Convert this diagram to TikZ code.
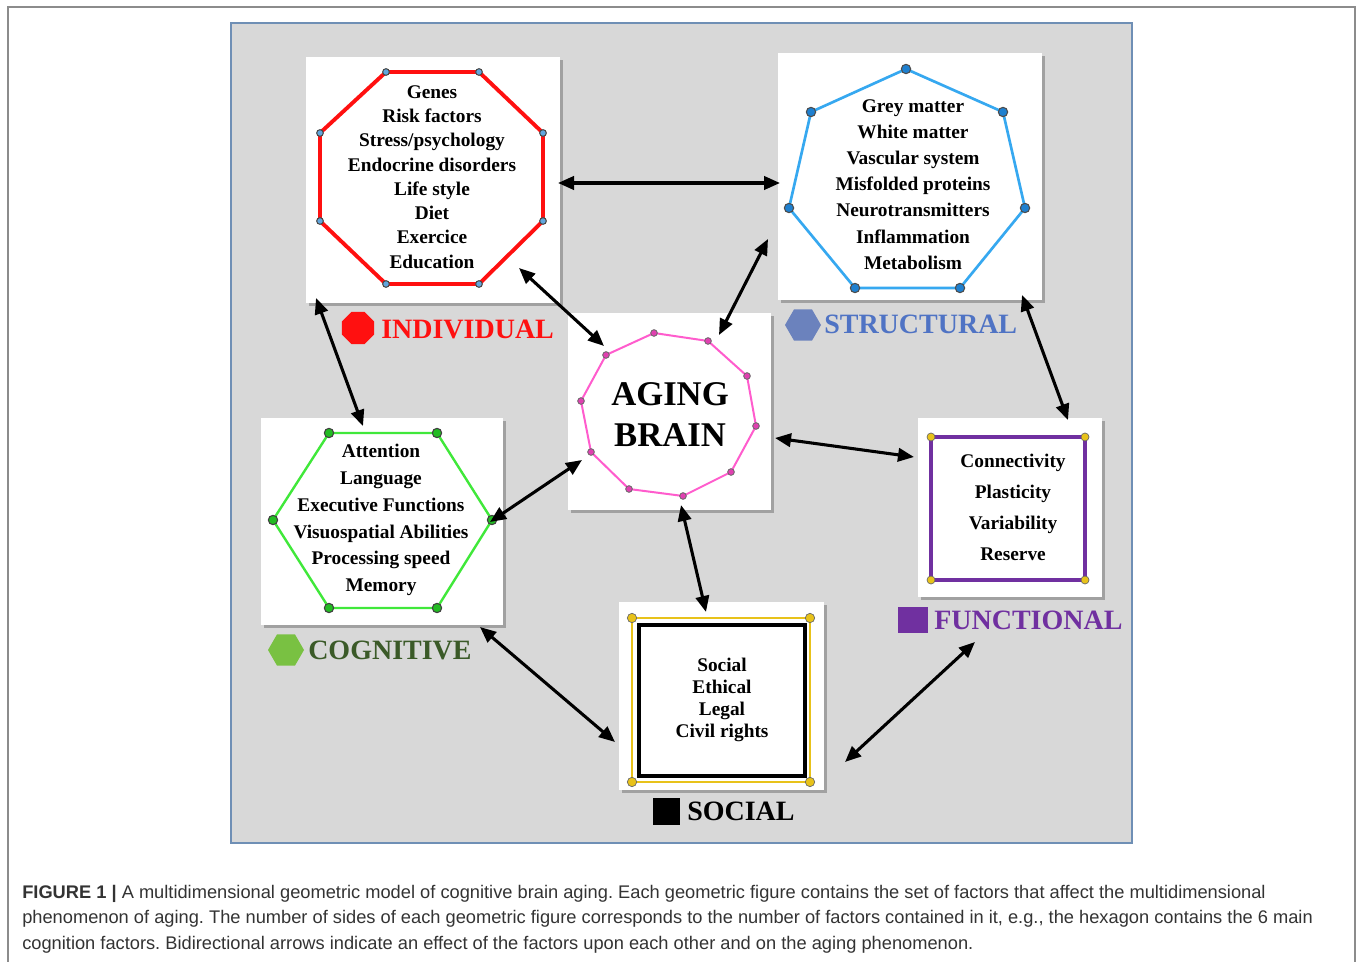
\documentclass[tikz,border=0pt]{standalone}
\usepackage{fontspec}
\setmainfont{Liberation Serif}
\newfontfamily\capfont{Liberation Sans}
\usetikzlibrary{arrows.meta,shapes.geometric,shadows}
\definecolor{panelfill}{HTML}{D8D8D8}
\definecolor{panelborder}{HTML}{6F8FB5}
\definecolor{octred}{HTML}{FF1010}
\definecolor{heptblue}{HTML}{36A8F0}
\definecolor{heptdot}{HTML}{1E80D0}
\definecolor{decpink}{HTML}{FF5CCD}
\definecolor{decdot}{HTML}{E040B0}
\definecolor{hexgreen}{HTML}{40E83A}
\definecolor{hexdot}{HTML}{22BB22}
\definecolor{cogtext}{HTML}{3B5A28}
\definecolor{cogicon}{HTML}{79C142}
\definecolor{strtext}{HTML}{4F73C4}
\definecolor{stricon}{HTML}{6B82BD}
\definecolor{funpurple}{HTML}{7030A0}
\definecolor{dotyellow}{HTML}{E8C21A}
\definecolor{captext}{HTML}{333333}
\tikzset{
  whitebox/.style={draw=none, fill=white, rectangle, inner sep=0pt,
    drop shadow={shadow xshift=2.5pt, shadow yshift=-2.5pt, fill=black, opacity=0.25}},
  factors/.style={font=\bfseries\fontsize{14.5}{#1}\selectfont, align=center, inner sep=0pt, text=black},
  biarrow/.style={line width=2.3pt, black, {Triangle[length=12pt,width=10pt]}-{Triangle[length=12pt,width=10pt]}},
  vdot/.style={circle, inner sep=0pt, minimum size=5.5pt, line width=0.8pt},
  labeltext/.style={font=\bfseries\fontsize{21}{24}\selectfont, inner sep=0pt, anchor=west},
}
\begin{document}
\frenchspacing
\begin{tikzpicture}[x=0.75pt,y=-0.75pt]
\useasboundingbox (0,0) rectangle (1357,962);
\fill[white] (0,0) rectangle (1357,962);
% page frame
\draw[black!45, line width=0.8pt] (8,962) -- (8,7) -- (1355,7) -- (1355,962);
% panel
\node[draw=panelborder, fill=panelfill, line width=1pt, rectangle, minimum width=675.75pt, minimum height=615pt, inner sep=0pt] (panel) at (681.5,433) {};

% boxes
\node[whitebox, minimum width=190.5pt, minimum height=184.5pt] (indbox) at (433,180) {};
\node[whitebox, minimum width=198pt, minimum height=185.25pt] (strbox) at (910,176.5) {};
\node[whitebox, minimum width=152.25pt, minimum height=147.75pt] (brainbox) at (669.5,411.5) {};
\node[whitebox, minimum width=181.5pt, minimum height=155.25pt] (cogbox) at (382,521.5) {};
\node[whitebox, minimum width=138pt, minimum height=134.25pt] (funbox) at (1010,507.5) {};
\node[whitebox, minimum width=153.75pt, minimum height=141pt] (socbox) at (721.5,696) {};

% octagon (individual)
\draw[octred, line width=2.9pt, line join=round] (386,72) -- (479,72) -- (543,133) -- (543,221) -- (479,284) -- (386,284) -- (320,221) -- (320,133) -- cycle;
\foreach \p in {(386,72),(479,72),(543,133),(543,221),(479,284),(386,284),(320,221),(320,133)}
  \node[vdot, draw=black!70, fill=heptdot!70, minimum size=5pt] at \p {};
% heptagon (structural)
\draw[heptblue, line width=2pt, line join=round] (906,69) -- (1003,112) -- (1025,208) -- (960,288) -- (855,288) -- (789,208) -- (811,112) -- cycle;
\foreach \p in {(906,69),(1003,112),(1025,208),(960,288),(855,288),(789,208),(811,112)}
  \node[vdot, draw=black!70, fill=heptdot, minimum size=7pt] at \p {};
% decagon (brain)
\draw[decpink, line width=1.5pt, line join=round] (654,333) -- (708,341) -- (747,376) -- (756,426) -- (731,472) -- (683,496) -- (629,489) -- (591,452) -- (581,401) -- (606,355) -- cycle;
\foreach \p in {(654,333),(708,341),(747,376),(756,426),(731,472),(683,496),(629,489),(591,452),(581,401),(606,355)}
  \node[vdot, draw=black!60, fill=decdot, minimum size=5pt, line width=0.6pt] at \p {};
% hexagon (cognitive)
\draw[hexgreen, line width=1.8pt, line join=round] (329,433) -- (437,433) -- (492,520) -- (437,608) -- (329,608) -- (273,520) -- cycle;
\foreach \p in {(329,433),(437,433),(492,520),(437,608),(329,608),(273,520)}
  \node[vdot, draw=black!75, fill=hexdot, minimum size=7pt] at \p {};
% square (functional)
\draw[dotyellow, line width=0.6pt] (931,437) rectangle (1085,580);
\draw[funpurple, line width=3pt] (931,437) rectangle (1085,580);
\foreach \p in {(931,437),(1085,437),(931,580),(1085,580)}
  \node[vdot, draw=black!60, fill=dotyellow, minimum size=6pt, line width=0.5pt] at \p {};
% square (social)
\draw[dotyellow, line width=1pt] (632,618) rectangle (810,782);
\draw[black, line width=2.6pt] (639,625) rectangle (805,776);
\foreach \p in {(632,618),(810,618),(632,782),(810,782)}
  \node[vdot, draw=black!60, fill=dotyellow, minimum size=7pt, line width=0.5pt] at \p {};

% factor texts
\node[factors=18.2pt] (indtext) at (432,177) {Genes\\Risk factors\\Stress/psychology\\Endocrine disorders\\Life style\\Diet\\Exercice\\Education};
\node[factors=19.6pt] (strtext) at (913,184.5) {Grey matter\\White matter\\Vascular system\\Misfolded proteins\\Neurotransmitters\\Inflammation\\Metabolism};
\node[font=\bfseries\fontsize{26}{30.75}\selectfont, align=center, inner sep=0pt] (braintext) at (670,415) {AGING\\BRAIN};
\node[factors=20.1pt] (cogtext) at (381,520) {Attention\\Language\\Executive Functions\\Visuospatial Abilities\\Processing speed\\Memory};
\node[factors=23.25pt] (funtext) at (1013,507.5) {Connectivity\\Plasticity\\Variability\\Reserve};
\node[factors=16.5pt] (soctext) at (722,700) {Social\\Ethical\\Legal\\Civil rights};

% category labels
\node[regular polygon, regular polygon sides=8, fill=octred, draw=none, minimum size=26pt, inner sep=0pt] (indicon) at (358,328) {};
\node[labeltext, text=octred] (indlabel) at (381,329) {INDIVIDUAL};
\node[regular polygon, regular polygon sides=6, fill=stricon, draw=none, minimum size=27pt, inner sep=0pt] (stricon) at (803,325) {};
\node[labeltext, text=strtext] (strlabel) at (824,324) {STRUCTURAL};
\node[regular polygon, regular polygon sides=6, fill=cogicon, draw=none, minimum size=27pt, inner sep=0pt] (cogicon) at (286,650) {};
\node[labeltext, text=cogtext] (coglabel) at (308,650) {COGNITIVE};
\node[rectangle, fill=funpurple, minimum width=22.5pt, minimum height=19pt, inner sep=0pt] (funicon) at (913,620) {};
\node[labeltext, text=funpurple] (funlabel) at (934,620) {FUNCTIONAL};
\node[rectangle, fill=black, minimum width=20pt, minimum height=20pt, inner sep=0pt] (socicon) at (666.5,811.5) {};
\node[labeltext, text=black] (soclabel) at (687,811) {SOCIAL};

% arrow end points
\coordinate (a1s) at (558,183); \coordinate (a1e) at (780,183);
\coordinate (a2s) at (519,268); \coordinate (a2e) at (604,346);
\coordinate (a3s) at (768,239); \coordinate (a3e) at (719,335);
\coordinate (a4s) at (316,298); \coordinate (a4e) at (363,426);
\coordinate (a5s) at (490,522); \coordinate (a5e) at (582,460);
\coordinate (a6s) at (775,438); \coordinate (a6e) at (914,457);
\coordinate (a7s) at (1022,295); \coordinate (a7e) at (1068,420);
\coordinate (a8s) at (681,505); \coordinate (a8e) at (706,612);
\coordinate (a9s) at (480,627); \coordinate (a9e) at (615,742);
\coordinate (a10s) at (845,762); \coordinate (a10e) at (975,642);
\foreach \i in {1,...,10} \draw[biarrow] (a\i s) -- (a\i e);

% caption
\begin{scope}[every node/.style={anchor=base west, inner sep=0pt, text=captext, font=\capfont\fontsize{13.7}{16}\selectfont}]
\node (cap1) at (22,898) {\textbf{FIGURE 1 |} A multidimensional geometric model of cognitive brain aging. Each geometric figure contains the set of factors that affect the multidimensional};
\node (cap2) at (22,923) {phenomenon of aging. The number of sides of each geometric figure corresponds to the number of factors contained in it, e.g., the hexagon contains the 6 main};
\node (cap3) at (22,949) {cognition factors. Bidirectional arrows indicate an effect of the factors upon each other and on the aging phenomenon.};
\end{scope}
\end{tikzpicture}
\end{document}
